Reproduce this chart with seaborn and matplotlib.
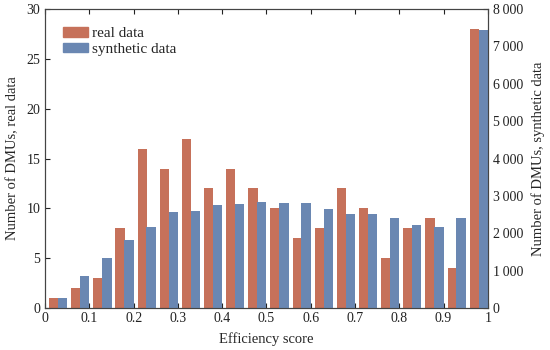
import numpy as np
import pandas as pd
import seaborn as sns
import matplotlib.pyplot as plt
from matplotlib.ticker import FuncFormatter, MultipleLocator

# limites inferiores dos bins (largura 0.05)
BIN_STARTS = [0.00, 0.05, 0.10, 0.15, 0.20, 0.25, 0.30, 0.35, 0.40, 0.45,
              0.50, 0.55, 0.60, 0.65, 0.70, 0.75, 0.80, 0.85, 0.90, 0.95]
REAL_COUNTS = [1, 2, 3, 8, 16, 14, 17, 12, 14, 12,
               10, 7, 8, 12, 10, 5, 8, 9, 4, 28]
SYNTH_COUNTS = [270, 860, 1350, 1830, 2175, 2560, 2595, 2745, 2775, 2835,
                2810, 2805, 2655, 2515, 2515, 2405, 2215, 2155, 2420, 7450]

REAL_COLOR = '#c6715a'
SYNTH_COLOR = '#6a87b2'

sns.set_style('ticks')
plt.rcParams['font.family'] = ['Liberation Serif', 'DejaVu Serif']
plt.rcParams['font.size'] = 10

df_real = pd.DataFrame({'x': np.array(BIN_STARTS) + 0.0195, 'n': REAL_COUNTS})
df_synth = pd.DataFrame({'x': np.array(BIN_STARTS) + 0.0395, 'n': SYNTH_COUNTS})

fig = plt.figure(figsize=(5.5, 3.5), dpi=100)
ax = fig.add_axes([0.082, 0.12, 0.805, 0.854])
ax2 = ax.twinx()

sns.barplot(data=df_real, x='x', y='n', native_scale=True, width=0.42,
            color=REAL_COLOR, saturation=1, linewidth=0, ax=ax)
sns.barplot(data=df_synth, x='x', y='n', native_scale=True, width=0.42,
            color=SYNTH_COLOR, saturation=1, linewidth=0, ax=ax2)

ax.set_xlim(0, 1)
ax.set_ylim(0, 30)
ax2.set_ylim(0, 8000)
ax.xaxis.set_major_locator(MultipleLocator(0.1))
ax.yaxis.set_major_locator(MultipleLocator(5))
ax2.yaxis.set_major_locator(MultipleLocator(1000))
ax.xaxis.set_major_formatter(FuncFormatter(
    lambda v, p: f'{int(round(v))}' if round(v, 3) in (0, 1) else f'{v:.1f}'))
ax2.yaxis.set_major_formatter(FuncFormatter(lambda v, p: f'{int(v):,}'.replace(',', '\u2009')))

ax.tick_params(direction='in', top=True, length=3.5, labelsize=10, colors='#222222')
ax2.tick_params(direction='in', length=3.5, labelsize=10, colors='#222222')
ax.tick_params(axis='x', pad=3)

ax.set_xlabel('Efficiency score', fontsize=10.5, labelpad=5)
ax.set_ylabel('Number of DMUs, real data', fontsize=10.5, labelpad=5)
ax2.set_ylabel('Number of DMUs, synthetic data', fontsize=10.5, labelpad=6)

for a in (ax, ax2):
    for s in a.spines.values():
        s.set_visible(True)
        s.set_color('#444444')
        s.set_linewidth(0.8)

handles = [plt.Rectangle((0, 0), 1, 1, color=REAL_COLOR),
           plt.Rectangle((0, 0), 1, 1, color=SYNTH_COLOR)]
ax2.legend(handles, ['real data', 'synthetic data'], loc='upper left',
           frameon=False, fontsize=11, handlelength=1.6, handleheight=0.55,
           handletextpad=0.3, labelspacing=0.15, borderaxespad=0.8)

fig.savefig('out.png', dpi=100)
